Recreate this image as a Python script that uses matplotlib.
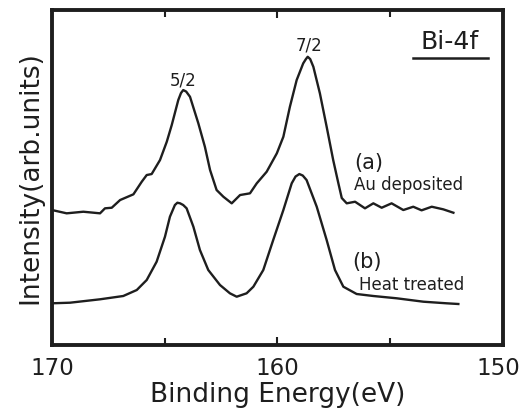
import matplotlib
matplotlib.use('Agg')
import matplotlib.pyplot as plt
import matplotlib.transforms as mtransforms

# binding energy (eV) and intensity (arb. units)
# (a) Au deposited
energy_a = [170.0, 169.35, 168.61, 167.87, 167.65, 167.35, 166.98, 166.39, 166.02,
            165.80, 165.58, 165.21, 164.91, 164.69, 164.40, 164.28, 164.18, 164.05,
            163.88, 163.51, 163.22, 162.99, 162.70, 162.40, 162.03, 161.66, 161.22,
            160.92, 160.48, 160.03, 159.74, 159.45, 159.15, 158.86, 158.74, 158.66,
            158.55, 158.41, 158.12, 157.82, 157.53, 157.30, 157.15, 156.93, 156.56,
            156.12, 155.75, 155.38, 154.94, 154.42, 153.98, 153.61, 153.16, 152.65,
            152.20]
inten_a = [135, 131.7, 133.3, 131.7, 136.7, 137.3, 145, 150.7, 163.3,
           170, 171, 185, 203.3, 220, 245, 252, 255, 253.5,
           248.3, 221.7, 198.3, 175, 155, 148.3, 141.7, 150, 151.7,
           161.7, 173.3, 191.7, 208.3, 238.3, 265, 281.7, 286, 288.3,
           286, 278.3, 251.7, 218.3, 185, 161.7, 147, 141.7, 143.3,
           136.7, 141.7, 137.3, 141.7, 135, 138.3, 134.7, 138.3, 135.7,
           132.3]

# (b) Heat treated
energy_b = [170.0, 169.2, 167.87, 166.84, 166.24, 165.80, 165.36, 164.99, 164.77,
            164.55, 164.44, 164.32, 164.18, 164.03, 163.73, 163.44, 163.07, 162.55,
            162.11, 161.81, 161.37, 161.07, 160.63, 160.19, 159.74, 159.37, 159.20,
            159.03, 158.88, 158.71, 158.26, 157.82, 157.45, 157.08, 156.49, 155.75,
            154.71, 153.53, 152.50, 151.98]
inten_b = [41.7, 42.3, 45.7, 49, 55, 65, 83.3, 108.3, 128.3,
           140, 142.3, 141.7, 140, 136.7, 118.3, 95, 75, 60,
           51.7, 48.3, 51.7, 58.3, 75, 105, 135, 161.7, 168.5,
           171, 169.5, 165, 138.3, 105, 75, 58.3, 51, 49,
           46.7, 43.3, 41.7, 41]

xticks = [170, 160, 150]
minor_ticks = [165, 155]

ink = '#1e1e1e'
fig = plt.figure(figsize=(5.22, 4.15), dpi=100)
ax = fig.add_axes([0.0996, 0.1687, 0.864, 0.807])

ax.plot(energy_a, inten_a, color=ink, lw=1.7, solid_joinstyle='round')
ax.plot(energy_b, inten_b, color=ink, lw=1.7, solid_joinstyle='round')

ax.set_xlim(170, 150)
ax.set_ylim(0, 335)
ax.set_xticks(xticks)
ax.set_xticks(minor_ticks, minor=True)
ax.set_xticklabels([str(t) for t in xticks], fontsize=16.5, color=ink)
ax.tick_params(axis='x', which='both', direction='in', top=True, length=6,
               width=1.5, color=ink, pad=9)
ax.tick_params(axis='x', which='minor', length=5)
ax.set_yticks([])
for s in ax.spines.values():
    s.set_linewidth(2.8)
    s.set_color(ink)

# keep the last tick label inside the figure
last = ax.get_xticklabels()[-1]
last.set_transform(last.get_transform() +
                   mtransforms.ScaledTranslation(-5 / 100, 0, fig.dpi_scale_trans))

ax.set_xlabel('Binding Energy(eV)', fontsize=19, color=ink, labelpad=1)
ax.set_ylabel('Intensity(arb.units)', fontsize=19, color=ink, labelpad=6)

ax.text(164.2, 265, '5/2', fontsize=12, ha='center', va='center', color=ink)
ax.text(158.6, 300, '7/2', fontsize=12, ha='center', va='center', color=ink)
ax.text(152.35, 303, 'Bi-4f', fontsize=18, ha='center', va='center', color=ink)
ax.plot([154.0, 150.66], [287, 287], color=ink, lw=1.8)
ax.text(156.6, 182, '(a)', fontsize=15, ha='left', va='center', color=ink)
ax.text(156.6, 160, 'Au deposited', fontsize=12, ha='left', va='center', color=ink)
ax.text(156.7, 83, '(b)', fontsize=15, ha='left', va='center', color=ink)
ax.text(156.4, 60, 'Heat treated', fontsize=12, ha='left', va='center', color=ink)

fig.savefig('out.png', dpi=100)
